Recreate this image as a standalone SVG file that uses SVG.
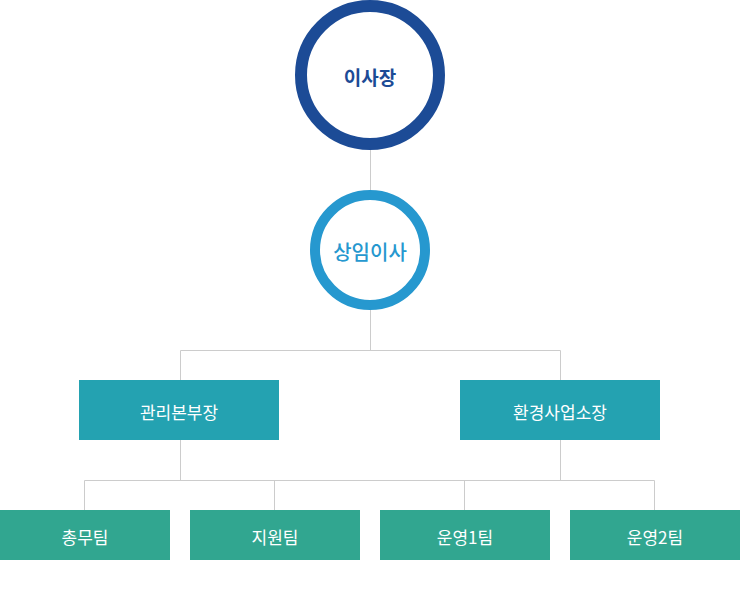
<svg xmlns="http://www.w3.org/2000/svg" width="740" height="590" viewBox="0 0 740 590">
<style>
.ln{fill:none;stroke:#cccccc;stroke-width:1}
.mid{fill:#24a2b1}
.team{fill:#31a690}
.wt{fill:#ffffff;font-family:"Noto Sans CJK KR","Noto Sans",sans-serif;font-size:17px;text-anchor:middle;dominant-baseline:central}
.ct{font-family:"Noto Sans CJK KR","Noto Sans",sans-serif;font-size:19px;font-weight:bold;text-anchor:middle;dominant-baseline:central}
.ct2{font-family:"Noto Sans CJK KR","Noto Sans",sans-serif;font-size:20px;font-weight:500;text-anchor:middle;dominant-baseline:central}
</style>
<rect width="740" height="590" fill="#ffffff"/>
<g id="connectors">
<path class="ln" d="M370.5 150V190M370.5 310V350.5M180.5 380V350.5H560.5V380"/>
<path class="ln" d="M180.5 440V480.5M560.5 440V480.5M84.5 510V480.5H654.5V510M274.5 480.5V510M464.5 480.5V510"/>
</g>
<g id="chairman">
<circle cx="370" cy="75" r="69" fill="#ffffff" stroke="#1c4b96" stroke-width="12"/>
<text class="ct" x="370" y="76" fill="#1c4b96">이사장</text>
</g>
<g id="director">
<circle cx="370" cy="250" r="55" fill="#ffffff" stroke="#2698cf" stroke-width="10"/>
<text class="ct2" x="370" y="251" fill="#2698cf">상임이사</text>
</g>
<g id="management">
<rect class="mid" x="79" y="380" width="200" height="60"/>
<text class="wt" x="179" y="411">관리본부장</text>
</g>
<g id="environment">
<rect class="mid" x="460" y="380" width="200" height="60"/>
<text class="wt" x="560" y="411">환경사업소장</text>
</g>
<g id="general">
<rect class="team" x="0" y="510" width="170" height="50"/>
<text class="wt" x="85" y="536">총무팀</text>
</g>
<g id="support">
<rect class="team" x="190" y="510" width="170" height="50"/>
<text class="wt" x="275" y="536">지원팀</text>
</g>
<g id="ops1">
<rect class="team" x="380" y="510" width="170" height="50"/>
<text class="wt" x="465" y="536">운영1팀</text>
</g>
<g id="ops2">
<rect class="team" x="570" y="510" width="170" height="50"/>
<text class="wt" x="655" y="536">운영2팀</text>
</g>
</svg>
